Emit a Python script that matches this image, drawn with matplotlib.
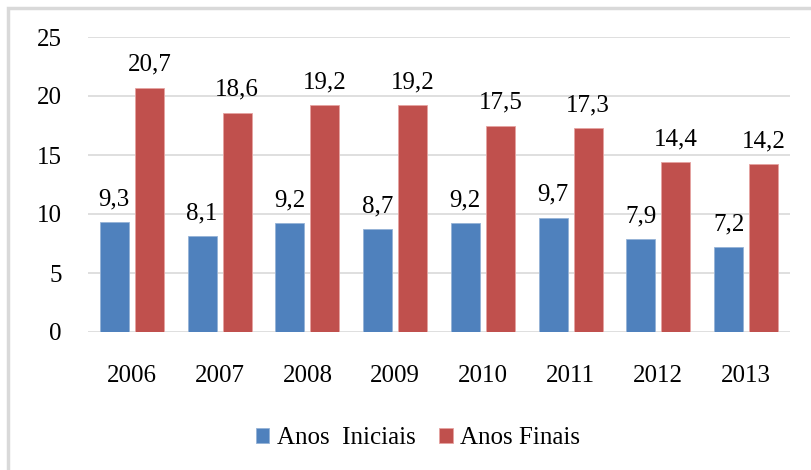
import matplotlib.pyplot as plt
from matplotlib.patches import Rectangle
import numpy as np

anos = ['2006', '2007', '2008', '2009', '2010', '2011', '2012', '2013']
iniciais = [9.3, 8.1, 9.2, 8.7, 9.2, 9.7, 7.9, 7.2]
finais = [20.7, 18.6, 19.2, 19.2, 17.5, 17.3, 14.4, 14.2]

plt.rcParams['font.family'] = ['Liberation Serif', 'DejaVu Serif']

fig = plt.figure(figsize=(8.11, 4.70), dpi=100)
# outer chart frame (cut off on right and bottom like the screenshot)
fig.patches.append(Rectangle((8/811, -0.05), 1.2, 1 - 8/470 + 0.05, transform=fig.transFigure,
                             fill=False, edgecolor='#d9d9d9', linewidth=2.5))

ax = fig.add_axes([88/811, 1 - 332/470, (790 - 88)/811, (332 - 37)/470])
x = np.arange(len(anos))
w = 0.33
b1 = ax.bar(x - 0.2, iniciais, w, color='#4F81BD', edgecolor='#95b3d7', linewidth=0.6, label='Anos  Iniciais', zorder=3)
b2 = ax.bar(x + 0.2, finais, w, color='#C0504D', edgecolor='#e6a3a1', linewidth=0.6, label='Anos Finais', zorder=3)

for bars, vals in ((b1, iniciais), (b2, finais)):
    for r, v in zip(bars, vals):
        ax.annotate(f'{v:.1f}'.replace('.', ','), (r.get_x() + r.get_width()/2, v),
                    xytext=(0, 8.5), textcoords='offset points', ha='center', va='bottom', fontsize=18)

ax.set_ylim(0, 25)
ax.set_xlim(-0.5, len(anos) - 0.5)
ax.set_yticks(range(0, 26, 5))
ax.set_xticks(x)
ax.set_xticklabels(anos)
ax.tick_params(axis='both', length=0, labelsize=18)
ax.tick_params(axis='y', pad=19)
ax.tick_params(axis='x', pad=24)
ax.grid(axis='y', color='#d9d9d9', linewidth=1.2, zorder=0)
for s in ax.spines.values():
    s.set_visible(False)

fig.legend(loc='center', bbox_to_anchor=(418/811, 1 - 438/470), ncol=2, frameon=False,
           fontsize=18, handlelength=0.55, handleheight=0.55, handletextpad=0.3, columnspacing=0.95)

fig.savefig('out.png')
